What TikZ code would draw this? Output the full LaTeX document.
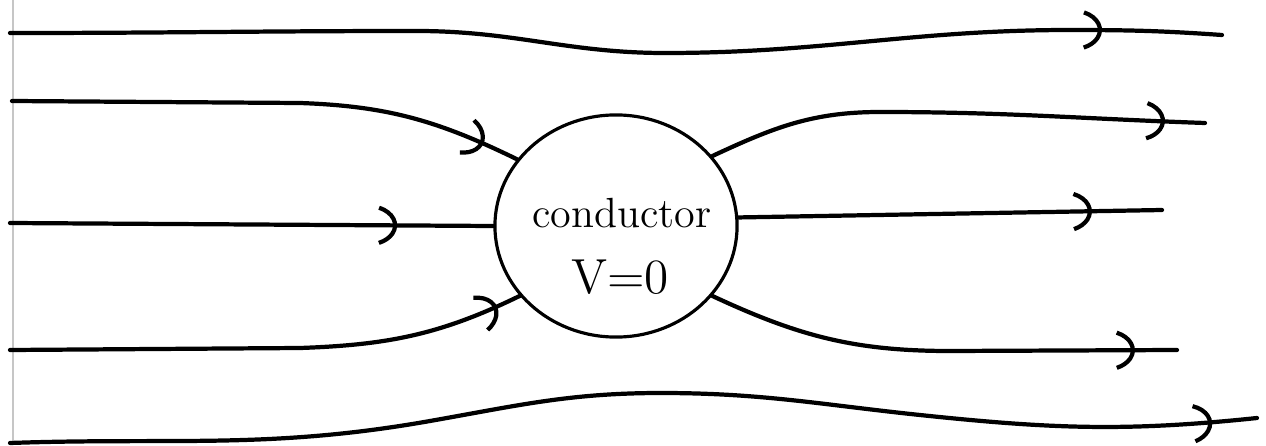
\documentclass[tikz,border=0pt]{standalone}
\usepackage{tikz}
\usetikzlibrary{arrows.meta,decorations.markings,shapes.geometric}
\newcommand{\ArrTip}{Arc Barb[arc=130,length=3mm,width=4.3mm]}
\tikzset{->-/.style={decoration={markings,mark=at position #1 with {\arrow{\ArrTip}}},postaction={decorate}}}
\tikzset{fline/.style={line width=1.2pt,line cap=round}}
\begin{document}
\begin{tikzpicture}[x=.01cm,y=.01cm]
\useasboundingbox(0,0)rectangle(1266,445);
\draw[gray!45,line width=.5pt](13,0)--(13,445);
\node[ellipse,draw,line width=.9pt,minimum width=2.42cm,minimum height=2.22cm,inner sep=0pt](cond)at(616,219){};
\node[font=\fontsize{12}{14}\selectfont](name)at(622,232){conductor};
\node[font=\fontsize{14}{16}\selectfont](pot)at(620,168){V=0};
\coordinate(w1)at(10,412);\coordinate(w2)at(12,344);\coordinate(w3)at(10,222);\coordinate(w4)at(10,95);\coordinate(w5)at(10,2);
\coordinate(e1)at(1222,410);\coordinate(e2)at(1205,322);\coordinate(e3)at(1162,235);\coordinate(e4)at(1177,95);\coordinate(e5)at(1257,27);
% lines coming in from the left
\draw[fline,->-=-1.2cm](w1)to[out=0,in=180](417,414)to[out=0,in=180](665,392)to[out=0,in=180](1070,415)to[out=0,in=176](e1);
\draw[fline,->-=-.37cm](w2)--(300,342)to[out=-2,in=154](cond.146);
\draw[fline,->-=3.87cm](w3)--(cond.west);
\draw[fline,->-=-.25cm](w4)--(300,97)to[out=2,in=206](cond.216);
\draw[fline,->-=-.45cm](w5)to[out=2,in=190](430,24)to[out=10,in=180](661,52)to[out=0,in=174](920,30)to[out=-6,in=186](e5);
% lines leaving to the right
\draw[fline,->-=-.4cm](cond.36)to[out=25,in=180](880,333)to[out=0,in=178](e2);
\draw[fline,->-=-.7cm](cond.4)--(e3);
\draw[fline,->-=-.42cm](cond.-36)to[out=-25,in=180](950,94)--(e4);
\end{tikzpicture}
\end{document}
